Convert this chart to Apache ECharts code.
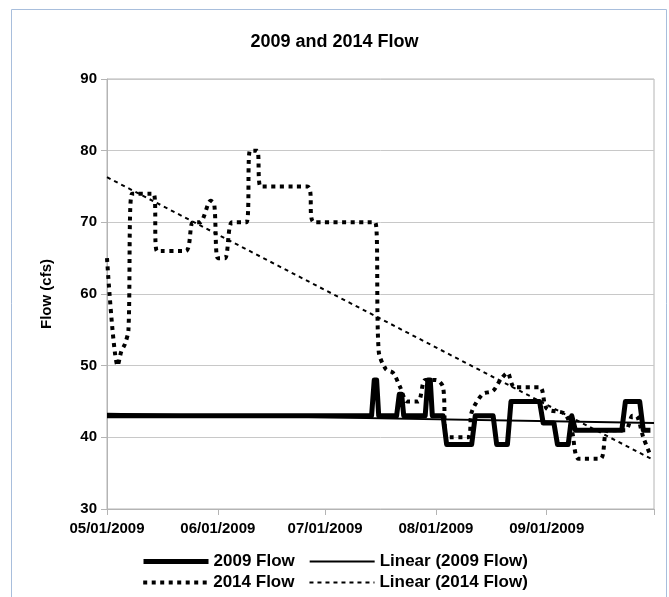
<!DOCTYPE html>
<html>
<head>
<meta charset="utf-8">
<script src="https://cdn.jsdelivr.net/npm/echarts@6/dist/echarts.min.js"></script>
<style>
  html, body { margin: 0; padding: 0; background: #fff; }
  #main { width: 669px; height: 597px; }
</style>
</head>
<body>
<div id="main"></div>
<script>
// month ticks on the date axis
const tickDates = ["2009-05-01", "2009-06-01", "2009-07-01", "2009-08-01", "2009-09-01", "2009-10-01"];
const labelDates = ["2009-05-01", "2009-06-01", "2009-07-01", "2009-08-01", "2009-09-01"];

// 2009 flow (cfs) ("date hour")
const flow2009Dates = [
  "2009-05-01", "2009-07-14", "2009-07-14 18", "2009-07-15 10", "2009-07-16",
  "2009-07-21", "2009-07-21 18", "2009-07-22 10", "2009-07-23",
  "2009-07-29", "2009-07-29 18", "2009-07-30 10", "2009-07-31",
  "2009-08-03", "2009-08-04", "2009-08-11", "2009-08-12",
  "2009-08-17", "2009-08-18", "2009-08-21", "2009-08-22", "2009-08-30", "2009-08-31", "2009-09-03",
  "2009-09-04", "2009-09-07", "2009-09-08", "2009-09-09", "2009-09-22", "2009-09-23", "2009-09-27",
  "2009-09-28", "2009-09-30",
];
const flow2009Values = [
  43, 43, 48, 48, 43,
  43, 46, 46, 43,
  43, 48, 48, 43,
  43, 39, 39, 43,
  43, 39, 39, 45, 45, 42, 42,
  39, 39, 43, 41, 41, 45, 45,
  41, 41,
];

// 2014 flow (cfs), plotted on the same 2009 calendar
const flow2014Dates = [
  "2009-05-01", "2009-05-04", "2009-05-05", "2009-05-06", "2009-05-07", "2009-05-08", "2009-05-14",
  "2009-05-15", "2009-05-23", "2009-05-25", "2009-05-27", "2009-05-30", "2009-05-31", "2009-06-01",
  "2009-06-03", "2009-06-05", "2009-06-09", "2009-06-10", "2009-06-12", "2009-06-13", "2009-06-26",
  "2009-06-28", "2009-07-15", "2009-07-16", "2009-07-18", "2009-07-20", "2009-07-22", "2009-07-24",
  "2009-07-27", "2009-07-29", "2009-08-01", "2009-08-03", "2009-08-04", "2009-08-10", "2009-08-11",
  "2009-08-14", "2009-08-17", "2009-08-19", "2009-08-21", "2009-08-23", "2009-08-30", "2009-09-01",
  "2009-09-06", "2009-09-08", "2009-09-10", "2009-09-16", "2009-09-18", "2009-09-23", "2009-09-25",
  "2009-09-26", "2009-09-28", "2009-09-30",
];
const flow2014Values = [
  65, 50, 52, 53, 55, 74, 74,
  66, 66, 70, 70, 73, 72.5, 65,
  65, 70, 70, 80, 80, 75, 75,
  70, 70, 52, 49.5, 49, 47, 45,
  45, 48, 48, 47, 40, 40, 43.5,
  46, 46.5, 48, 49, 47, 47, 44,
  43.3, 41, 37, 37, 41, 41, 43,
  43, 40, 37.5,
];

// trend line end points
const trendDates = ["2009-05-01", "2009-10-01"];
const trend2009Values = [43.3, 42.0];
const trend2014Values = [76.3, 36.8];

const yTicks = { min: 30, max: 90, step: 10 };

const toTime = s => {
  const [day, hour] = s.split(" ");
  const [y, m, d] = day.split("-").map(Number);
  return new Date(y, m - 1, d, hour ? Number(hour) : 0).getTime();
};
const pad = n => (n < 10 ? "0" + n : "" + n);
const fmtDate = v => {
  const d = new Date(v);
  return pad(d.getMonth() + 1) + "/" + pad(d.getDate()) + "/" + d.getFullYear();
};
const pairs = (xs, ys) => xs.map((x, i) => [toTime(x), ys[i]]);

const axisGray = "#b4b4b4";
const font = "Liberation Sans, Arial, sans-serif";

const legendRow = (names, top) => ({
  data: names,
  top: top,
  left: "center",
  itemWidth: 65,
  itemHeight: 14,
  itemGap: 14,
  itemStyle: { color: "rgba(0,0,0,0)", borderWidth: 0 },
  lineStyle: { width: "inherit", type: "inherit" },
  textStyle: { fontFamily: font, fontWeight: "bold", fontSize: 17, color: "#000" },
});

const chart = echarts.init(document.getElementById("main"), null, { renderer: "canvas" });
chart.setOption({
  animation: false,
  backgroundColor: "#fff",
  graphic: [
    {
      type: "rect",
      shape: { x: 11.5, y: 9.5, width: 655, height: 600 },
      style: { fill: "none", stroke: "#a8bedc", lineWidth: 1 },
      silent: true,
    },
  ],
  title: {
    text: "2009 and 2014 Flow",
    left: "center",
    top: 28,
    textStyle: { fontFamily: font, fontWeight: "bold", fontSize: 18, color: "#000" },
  },
  legend: [
    legendRow(["2009 Flow", "Linear (2009 Flow)"], 548),
    legendRow(["2014 Flow", "Linear (2014 Flow)"], 569),
  ],
  grid: {
    left: 107,
    right: 15,
    top: 79,
    bottom: 88,
    show: true,
    borderColor: axisGray,
    borderWidth: 1,
    outerBoundsMode: "none",
  },
  xAxis: {
    type: "value",
    min: toTime(tickDates[0]),
    max: toTime(tickDates[tickDates.length - 1]),
    axisLine: { lineStyle: { color: axisGray } },
    axisTick: { show: true, length: 6, lineStyle: { color: axisGray }, customValues: tickDates.map(toTime) },
    splitLine: { show: false },
    axisLabel: {
      customValues: labelDates.map(toTime),
      formatter: v => fmtDate(v),
      margin: 12,
      color: "#000",
      fontFamily: font,
      fontWeight: "bold",
      fontSize: 15,
    },
  },
  yAxis: {
    type: "value",
    min: yTicks.min,
    max: yTicks.max,
    interval: yTicks.step,
    name: "Flow (cfs)",
    nameLocation: "middle",
    nameGap: 53,
    nameTextStyle: { fontFamily: font, fontWeight: "bold", fontSize: 15, color: "#000" },
    axisLine: { show: true, lineStyle: { color: axisGray } },
    axisTick: { show: true, length: 6, lineStyle: { color: axisGray } },
    splitLine: { lineStyle: { color: "#c8c8c8" } },
    axisLabel: { margin: 10, color: "#000", fontFamily: font, fontWeight: "bold", fontSize: 15 },
  },
  series: [
    {
      name: "2014 Flow",
      type: "line",
      data: pairs(flow2014Dates, flow2014Values),
      smooth: 0.3,
      showSymbol: false,
      symbol: "none",
      lineStyle: { color: "#000", width: 4, type: [4, 4.5], cap: "butt" },
      itemStyle: { color: "#000" },
      z: 2,
    },
    {
      name: "2009 Flow",
      type: "line",
      data: pairs(flow2009Dates, flow2009Values),
      showSymbol: false,
      symbol: "none",
      lineStyle: { color: "#000", width: 5, join: "round" },
      itemStyle: { color: "#000" },
      z: 3,
    },
    {
      name: "Linear (2009 Flow)",
      type: "line",
      data: pairs(trendDates, trend2009Values),
      showSymbol: false,
      symbol: "none",
      lineStyle: { color: "#000", width: 1.8 },
      itemStyle: { color: "#000" },
      z: 4,
    },
    {
      name: "Linear (2014 Flow)",
      type: "line",
      data: pairs(trendDates, trend2014Values),
      showSymbol: false,
      symbol: "none",
      lineStyle: { color: "#000", width: 2, type: [4, 4] },
      itemStyle: { color: "#000" },
      z: 4,
    },
  ],
});
</script>
</body>
</html>
